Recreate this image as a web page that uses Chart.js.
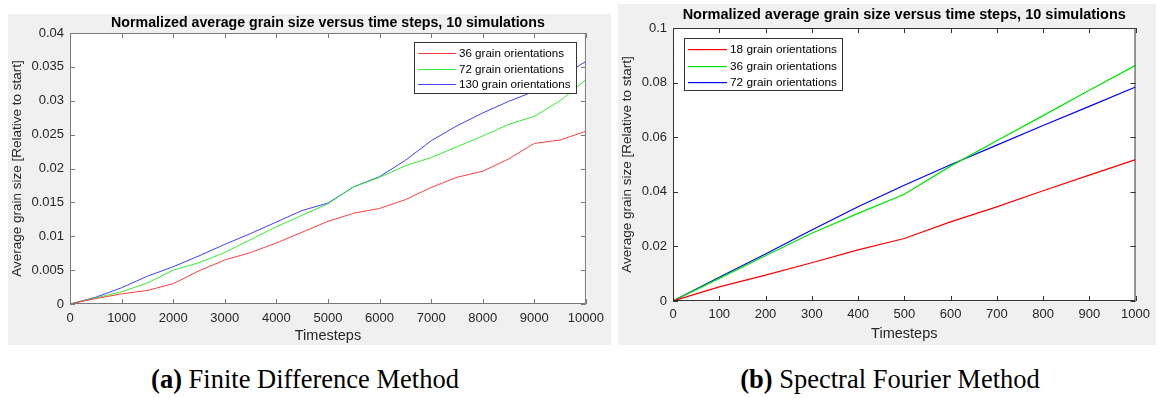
<!DOCTYPE html>
<html>
<head>
<meta charset="utf-8">
<script src="https://cdn.jsdelivr.net/npm/chart.js@4/dist/chart.umd.min.js"></script>
<style>
  html, body { margin: 0; padding: 0; background: #fff; }
  body { width: 1161px; height: 398px; position: relative; overflow: hidden; }
  .panel { position: absolute; background: #f0f0f0; }
  .panel canvas { display: block; }
  #panelFd { left: 8px; top: 14px; width: 603px; height: 331px; }
  #panelSf { left: 618px; top: 4px; width: 538px; height: 341px; }
  .caption {
    position: absolute; top: 363px; font-family: "Liberation Serif", "Times New Roman", serif;
    font-size: 26.5px; line-height: 32px; color: #000; white-space: nowrap; transform: translateX(-50%);
  }
  .caption b { font-weight: bold; }
</style>
</head>
<body>
<div class="panel" id="panelFd"><canvas id="chartFd" width="603" height="331"></canvas></div>
<div class="panel" id="panelSf"><canvas id="chartSf" width="538" height="341"></canvas></div>
<div class="caption" style="left:305px"><b>(a)</b> Finite Difference Method</div>
<div class="caption" style="left:890px"><b>(b)</b> Spectral Fourier Method</div>

<script>
// --- Finite difference runs (every 500 timesteps) ---
const fdSteps = [0, 500, 1000, 1500, 2000, 2500, 3000, 3500, 4000, 4500, 5000,
  5500, 6000, 6500, 7000, 7500, 8000, 8500, 9000, 9500, 10000];
const fd36 = [0, 0.0008, 0.0015, 0.0020, 0.0030, 0.0049, 0.0065, 0.0076, 0.0090, 0.0106, 0.0122,
  0.0134, 0.0141, 0.0154, 0.0172, 0.0187, 0.0196, 0.0214, 0.0237, 0.0242, 0.0255];
const fd72 = [0, 0.0009, 0.0018, 0.0031, 0.0050, 0.0061, 0.0076, 0.0095, 0.0114, 0.0131, 0.0148,
  0.0173, 0.0187, 0.0204, 0.0216, 0.0232, 0.0248, 0.0265, 0.0277, 0.0300, 0.0331];
const fd130 = [0, 0.0010, 0.0024, 0.0041, 0.0055, 0.0071, 0.0088, 0.0104, 0.0121, 0.0138, 0.0149,
  0.0173, 0.0188, 0.0212, 0.0241, 0.0263, 0.0282, 0.0299, 0.0314, 0.0335, 0.0358];
const fdXTicks = [0, 1000, 2000, 3000, 4000, 5000, 6000, 7000, 8000, 9000, 10000];
const fdYTicks = [0, 0.005, 0.01, 0.015, 0.02, 0.025, 0.03, 0.035, 0.04];

// --- Spectral Fourier runs (every 100 timesteps) ---
const sfSteps = [0, 100, 200, 300, 400, 500, 600, 700, 800, 900, 1000];
const sf18 = [0, 0.0052, 0.0095, 0.0140, 0.0187, 0.0229, 0.0290, 0.0345, 0.0404, 0.0461, 0.0518];
const sf36 = [0, 0.0083, 0.0166, 0.0248, 0.0321, 0.0391, 0.0494, 0.0587, 0.0679, 0.0772, 0.0863];
const sf72 = [0, 0.0087, 0.0172, 0.0260, 0.0345, 0.0424, 0.0499, 0.0571, 0.0643, 0.0713, 0.0784];
const sfXTicks = [0, 100, 200, 300, 400, 500, 600, 700, 800, 900, 1000];
const sfYTicks = [0, 0.02, 0.04, 0.06, 0.08, 0.1];

const FONT = '"Liberation Sans", Arial, Helvetica, sans-serif';
const TEXT = '#262626';

function pairs(xs, ys) {
  return xs.map((x, i) => ({ x, y: ys[i] }));
}

function fmt(v) {
  return String(+v.toFixed(4));
}

// MATLAB-style box: white axes, frame, inward ticks on all four sides, title, boxed legend
const matlabAxes = {
  id: 'matlabAxes',
  beforeDatasetsDraw(chart) {
    const { ctx, chartArea: a } = chart;
    ctx.save();
    ctx.fillStyle = '#fff';
    ctx.fillRect(a.left, a.top, a.right - a.left, a.bottom - a.top);
    ctx.restore();
  },
  afterDatasetsDraw(chart, args, opts) {
    const { ctx, chartArea: a, scales } = chart;
    ctx.save();
    ctx.strokeStyle = opts.frame;
    ctx.lineWidth = 1;
    ctx.strokeRect(a.left + 0.5, a.top + 0.5, a.right - a.left - 1, a.bottom - a.top - 1);
    const len = 5;
    ctx.beginPath();
    scales.x.ticks.forEach((t) => {
      const px = Math.round(scales.x.getPixelForValue(t.value)) + 0.5;
      ctx.moveTo(px, a.bottom); ctx.lineTo(px, a.bottom - len);
      ctx.moveTo(px, a.top); ctx.lineTo(px, a.top + len);
    });
    scales.y.ticks.forEach((t) => {
      const py = Math.round(scales.y.getPixelForValue(t.value)) + 0.5;
      ctx.moveTo(a.left, py); ctx.lineTo(a.left + len, py);
      ctx.moveTo(a.right, py); ctx.lineTo(a.right - len, py);
    });
    ctx.stroke();

    // title
    ctx.fillStyle = '#000';
    ctx.font = `bold ${opts.titleSize}px ${FONT}`;
    ctx.textAlign = 'center';
    ctx.textBaseline = 'middle';
    ctx.fillText(opts.title, (a.left + a.right) / 2, opts.titleY);

    // legend box
    const lg = opts.legend;
    ctx.fillStyle = '#fff';
    ctx.fillRect(lg.x, lg.y, lg.w, lg.h);
    ctx.strokeStyle = '#333';
    ctx.strokeRect(lg.x + 0.5, lg.y + 0.5, lg.w - 1, lg.h - 1);

    // legend entries, one sample line per series (colours straight from the datasets)
    ctx.font = `${lg.size}px ${FONT}`;
    ctx.textAlign = 'left';
    chart.data.datasets.forEach((ds, i) => {
      const yy = Math.round(lg.y + lg.first + i * lg.gap);
      ctx.fillStyle = ds.borderColor;
      ctx.fillRect(lg.x + 4, yy, lg.sample, lg.lineWidth);
      ctx.fillStyle = '#000';
      ctx.fillText(ds.label, lg.x + lg.sample + 7, yy + 1);
    });
    ctx.restore();
  }
};

function buildChart(id, cfg) {
  const datasets = cfg.series.map((s) => ({
    label: s.label,
    data: pairs(cfg.steps, s.values),
    borderColor: s.color,
    borderWidth: cfg.lineWidth,
    pointRadius: 0,
    tension: 0,
    fill: false
  }));
  const legend = Object.assign({}, cfg.legend, { lineWidth: cfg.lineWidth });
  return new Chart(document.getElementById(id), {
    type: 'line',
    data: { datasets },
    options: {
      responsive: false,
      animation: false,
      events: [],
      layout: { padding: { top: cfg.area.top, right: cfg.area.right, left: 0, bottom: 0 } },
      plugins: {
        legend: { display: false },
        tooltip: { enabled: false },
        matlabAxes: { frame: cfg.frame, title: cfg.title, titleY: cfg.titleY, titleSize: cfg.titleSize, legend }
      },
      scales: {
        x: {
          type: 'linear',
          min: cfg.xTicks[0],
          max: cfg.xTicks[cfg.xTicks.length - 1],
          afterBuildTicks: (scale) => { scale.ticks = cfg.xTicks.map((v) => ({ value: v })); },
          afterFit: (scale) => { scale.height = cfg.area.bottom; },
          grid: { display: false, drawTicks: false },
          border: { display: false },
          ticks: { color: TEXT, font: { family: FONT, size: 13 }, padding: cfg.xPad, maxRotation: 0, callback: fmt },
          title: { display: true, text: 'Timesteps', color: TEXT, font: { family: FONT, size: 14.5 }, padding: { top: 0, bottom: cfg.xTitlePad } }
        },
        y: {
          type: 'linear',
          min: cfg.yTicks[0],
          max: cfg.yTicks[cfg.yTicks.length - 1],
          afterBuildTicks: (scale) => { scale.ticks = cfg.yTicks.map((v) => ({ value: v })); },
          afterFit: (scale) => { scale.width = cfg.area.left; },
          grid: { display: false, drawTicks: false },
          border: { display: false },
          ticks: { color: TEXT, font: { family: FONT, size: 13 }, padding: 6, callback: fmt },
          title: { display: true, text: 'Average grain size [Relative to start]', color: TEXT, font: { family: FONT, size: 13.5 }, padding: { top: cfg.yTitlePad, bottom: 0 } }
        }
      }
    },
    plugins: [matlabAxes]
  });
}

buildChart('chartFd', {
  steps: fdSteps,
  series: [
    { label: '36 grain orientations', values: fd36, color: '#ff4040' },
    { label: '72 grain orientations', values: fd72, color: '#33ee33' },
    { label: '130 grain orientations', values: fd130, color: '#4040ff' }
  ],
  lineWidth: 1,
  xTicks: fdXTicks,
  yTicks: fdYTicks,
  area: { left: 62, top: 19, right: 603 - 578, bottom: 331 - 290 },
  frame: '#7a7a7a',
  title: 'Normalized average grain size versus time steps, 10 simulations',
  titleY: 9,
  titleSize: 14.2,
  xPad: 7,
  xTitlePad: 0,
  yTitlePad: 1,
  legend: { x: 406, y: 28, w: 163, h: 52, first: 11, gap: 15.5, sample: 38, size: 11.6 }
});

buildChart('chartSf', {
  steps: sfSteps,
  series: [
    { label: '18 grain orientations', values: sf18, color: '#ff0000' },
    { label: '36 grain orientations', values: sf36, color: '#00e600' },
    { label: '72 grain orientations', values: sf72, color: '#0000ff' }
  ],
  lineWidth: 1.2,
  xTicks: sfXTicks,
  yTicks: sfYTicks,
  area: { left: 55, top: 24, right: 538 - 529, bottom: 341 - 297 },
  frame: '#333',
  title: 'Normalized average grain size versus time steps, 10 simulations',
  titleY: 11,
  titleSize: 14.5,
  xPad: 6,
  xTitlePad: 2,
  yTitlePad: 1,
  legend: { x: 66, y: 34, w: 159, h: 53, first: 11, gap: 16.5, sample: 39, size: 11.8 }
});
</script>
</body>
</html>
